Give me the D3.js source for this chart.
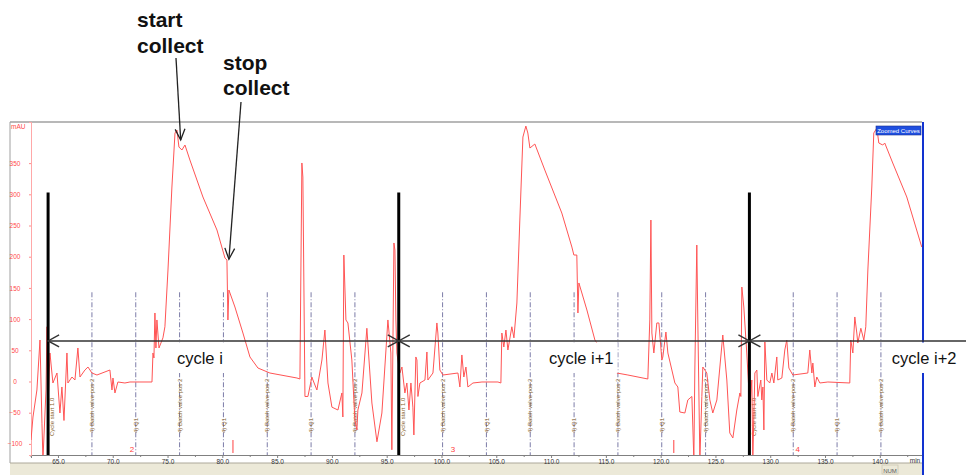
<!DOCTYPE html>
<html>
<head>
<meta charset="utf-8">
<script src="https://cdnjs.cloudflare.com/ajax/libs/d3/7.8.5/d3.min.js"></script>
<style>
body{margin:0;background:#fff;}
svg{display:block;font-family:"Liberation Sans",Arial,sans-serif;}
</style>
</head>
<body>
<div id="chart"></div>
<script>
// UV trace, [time (min), mAU]
var preCycle = [[62.54,-93.8],[62.72,-56.9],[63.08,-13.6],[63.36,66.5],[63.54,-66.9],[63.63,-125],[63.91,-13.6],[64.00,87.7],[64.09,-41.1]];
var cycle1 = [[64.09,-41.1],[64.27,45.7],[64.54,-2.4],[64.91,13.6],[65.18,-50.5],[65.36,-8.8],[65.55,-62.5],[65.82,45.7],[65.91,-2.4],[66.28,7.2],[66.55,2.4],[66.82,53.7],[67.01,7.2],[67.46,18.4],[67.74,23.2],[68.10,13.6],[68.56,10.4],[69.74,18.4],[69.93,-13.6],[70.02,5.6],[70.20,-18.4],[70.47,-0.8],[71.11,-2.4],[71.57,-0.8],[72.48,-0.8],[73.58,-0.8],[73.67,45.7],[73.76,37.7],[73.85,109.8],[73.94,53.7],[74.03,98.6],[74.22,53.7],[74.58,69.9],[74.76,87.7],[75.04,178.7],[75.40,311.7],[75.68,398.2],[75.86,403.0],[76.04,375.8],[76.31,371.0],[76.59,379.0],[77.04,355.0],[78.23,295.7],[79.51,242.8],[80.24,197.9],[80.42,194.7],[80.51,98.6],[80.60,146.6],[81.15,119.4],[81.88,77.7],[82.52,39.3],[83.25,21.6],[84.34,13.6],[86.81,5.6],[87.08,4.0],[87.26,350.2],[87.35,327.7],[87.54,-24.0],[87.81,-24.0],[88.17,7.2],[88.27,2.4],[88.63,-13.6],[89.09,34.5],[89.36,82.5],[89.64,-2.4],[90.00,-41.1],[90.55,-45.7],[90.91,-18.4],[91.00,-56.9],[91.09,202.7],[91.28,98.6],[91.46,93.8],[91.82,34.5],[92.10,-62.5],[92.28,-77.7],[92.37,-45.7],[92.74,-18.4],[93.19,85.3],[93.65,-34.5],[94.11,-96.6],[94.56,-50.5],[95.11,98.6],[95.38,45.7],[95.47,-109.4],[95.66,222.0],[95.75,210.7],[95.84,98.6],[95.93,45.7]];
var cycle2 = [[95.93,45.7],[96.20,13.6],[96.39,23.2],[96.66,-18.4],[96.84,-2.4],[97.03,-45.7],[97.21,-2.4],[97.39,-41.1],[97.48,-85.7],[97.66,39.3],[97.76,34.5],[97.85,-24.0],[98.03,-2.4],[98.49,2.4],[98.67,47.3],[98.76,2.4],[99.22,13.6],[99.58,93.8],[99.67,77.7],[99.85,18.4],[100.13,10.4],[101.50,13.6],[101.68,-8.8],[101.86,42.5],[102.04,7.2],[102.23,23.2],[102.41,-8.8],[102.87,-2.4],[103.69,-0.8],[105.15,-0.8],[105.42,-2.4],[105.51,77.7],[105.69,55.3],[105.88,82.5],[106.06,50.5],[106.42,87.7],[106.61,69.9],[106.88,125.8],[107.15,258.8],[107.43,391.8],[107.70,409.4],[107.88,398.2],[108.07,374.2],[108.52,380.6],[109.43,338.9],[110.98,270.0],[111.90,215.5],[112.08,202.7],[112.35,202.7],[112.45,109.8],[112.54,157.9],[113.27,114.6],[114.00,66.5],[116.00,13.6],[117.01,10.4],[118.83,4.0],[119.01,98.6],[119.11,258.8],[119.20,77.7],[119.38,45.7],[119.65,93.8],[119.84,93.8],[120.11,34.5],[120.20,39.3],[120.48,79.3],[120.66,45.7],[121.30,-2.4],[121.57,-8.8],[121.75,-48.9],[122.21,-50.5],[122.48,-29.6],[122.85,-24.0],[123.03,-125],[123.12,18.4],[123.30,218.7],[123.39,98.6],[123.58,-125],[123.76,-24.0],[123.85,23.2],[124.21,13.6],[124.49,-29.6],[124.76,-50.5],[125.13,-29.6],[125.67,74.5],[126.04,2.4],[126.31,-82.5],[126.59,-90.5],[126.95,-45.7],[127.23,-18.4],[127.32,-24.0],[127.41,151.4],[127.59,119.4],[127.86,45.7]];
var cycle3 = [[127.86,45.7],[128.14,-41.1],[128.32,2.4],[128.41,-125],[128.60,13.6],[128.78,18.4],[128.87,-24.0],[129.14,2.4],[129.23,-29.6],[129.33,-8.8],[129.42,-77.7],[129.51,63.3],[129.69,2.4],[129.96,-2.4],[130.15,13.6],[130.33,-2.4],[130.60,39.3],[130.69,2.4],[131.06,5.6],[131.33,50.5],[131.51,66.5],[131.70,21.6],[132.06,10.4],[133.43,13.6],[133.61,50.5],[133.80,13.6],[133.89,29.6],[134.07,-8.8],[134.25,7.2],[134.53,-2.4],[135.26,-0.8],[137.26,-2.4],[137.35,66.5],[137.54,45.7],[137.72,103.4],[137.90,77.7],[137.99,61.7],[138.27,85.3],[138.54,66.5],[138.72,87.7],[138.91,178.7],[139.27,311.7],[139.45,398.2],[139.73,406.2],[139.91,382.2],[140.27,379.0],[140.45,382.2],[141.18,350.2],[142.46,295.7],[143.83,215.5]];

var yTicks = [-100,-50,0,50,100,150,200,250,300,350];
var xTicks = [65,70,75,80,85,90,95,100,105,110,115,120,125,130,135,140];
var xMinor = [62.5,67.5,72.5,77.5,82.5,87.5,92.5,97.5,102.5,107.5,112.5,117.5,122.5,127.5,132.5,137.5,142.5];

var eventTimes = [64.1,68.1,72.1,76.1,80.1,84.1,88.1,92.1,96.1,100.1,104.1,108.1,112.1,116.1,120.1,124.1,128.1,132.1,136.1,140.1];
var eventTexts = ["Cycle start 1.0","4) Batch valve pos 2","4) Q1","4) Batch valve pos 2","4) Q1","4) Batch valve pos 2","4) Q1","4) Batch valve pos 2",
                  "Cycle start 1.0","4) Batch valve pos 2","4) Q1","4) Batch valve pos 2","4) Q1","4) Batch valve pos 2","4) Q1","4) Batch valve pos 2",
                  "Cycle start 1.0","4) Batch valve pos 2","4) Q1","4) Batch valve pos 2"];
var fracTimes = [71.75,101.04,132.52];
var fracLabels = ["2","3","4"];
var fracTicks = [80.97,121.2];

var cycleStarts = [64.1,96.1,128.1];
var cycleLabels = ["cycle i","cycle i+1","cycle i+2"];
var cycleLabelTimes = [75.86,109.8,141.1];
var collectStart = [76.2,387];
var collectStop = [80.6,196];

var W = 966, H = 475;
var svg = d3.select("#chart").append("svg").attr("width",W).attr("height",H);

var x = d3.scaleLinear().domain([62.54,143.85]).range([31,922]);
var y = d3.scaleLinear().domain([-117.8,415.9]).range([455,122]);

// window frame
svg.append("line").attr("x1",10).attr("x2",922).attr("y1",122).attr("y2",122).attr("stroke","#a0a0a0").attr("stroke-width",1.5);
svg.append("line").attr("x1",10).attr("x2",10).attr("y1",122).attr("y2",463).attr("stroke","#a0a0a0").attr("stroke-width",1);
svg.append("rect").attr("x",10).attr("y",463).attr("width",912).attr("height",12).attr("fill","#ece9d8");
svg.append("line").attr("x1",10).attr("x2",922).attr("y1",463).attr("y2",463).attr("stroke","#aca899");
svg.append("rect").attr("x",882).attr("y",465).attr("width",16).attr("height",9).attr("fill","none").attr("stroke","#c8c4b0").attr("stroke-width",0.7);
svg.append("text").attr("x",890).attr("y",472.5).attr("text-anchor","middle").attr("font-size",6).attr("fill","#555").text("NUM");

// event marker lines
svg.append("g").selectAll("line").data(eventTimes).join("line")
   .attr("x1",function(d){return x(d);}).attr("x2",function(d){return x(d);})
   .attr("y1",y(143)).attr("y2",455)
   .attr("stroke","#7c7ca8").attr("stroke-width",1).attr("stroke-dasharray","5,2,1,2");

svg.append("g").selectAll("text").data(eventTimes).join("text")
   .attr("transform",function(d,i){
       var xx = i%8==0 ? x(d)+4 : x(d);
       return "translate("+xx+","+(i%8==0 ? 436 : 433)+") rotate(-90)";
   })
   .attr("dy","0.35em").attr("font-size",6).attr("fill","#86622a")
   .text(function(d,i){return eventTexts[i];});

// axes
var xAxis = svg.append("g").attr("transform","translate(0,455)")
   .call(d3.axisBottom(x).tickValues(xTicks).tickFormat(d3.format(".1f")).tickSize(3).tickPadding(1));
xAxis.select(".domain").attr("stroke","#808080");
xAxis.selectAll(".tick line").attr("stroke","#808080");
xAxis.selectAll("text").attr("font-size",6.5).attr("fill","#333").attr("font-family","Liberation Sans, Arial");
var xMin = svg.append("g").attr("transform","translate(0,455)")
   .call(d3.axisBottom(x).tickValues(xMinor).tickFormat("").tickSize(2));
xMin.select(".domain").remove();
xMin.selectAll(".tick line").attr("stroke","#808080");
svg.append("text").attr("x",915).attr("y",463).attr("text-anchor","middle").attr("font-size",6.5).attr("fill","#333").text("min");

var yAxis = svg.append("g").attr("transform","translate(31,0)")
   .call(d3.axisLeft(y).tickValues(yTicks).tickSize(2));
yAxis.select(".domain").attr("stroke","#ffa8a8");
yAxis.selectAll(".tick line").attr("stroke","#ff8c8c");
yAxis.selectAll("text").attr("x",-16).attr("text-anchor","middle").attr("font-size",6.5)
   .attr("fill","#ff4a4a").attr("font-family","Liberation Sans, Arial");
svg.append("text").attr("x",11).attr("y",129).attr("font-size",6.5).attr("fill","#ff4a4a").text("mAU");

// trace
svg.append("clipPath").attr("id","plotclip").append("rect")
   .attr("x",31).attr("y",122).attr("width",891).attr("height",333);
var line = d3.line().x(function(d){return x(d[0]);}).y(function(d){return y(d[1]);});
[preCycle,cycle1,cycle2,cycle3].forEach(function(seg){
  svg.append("path").attr("d",line(seg)).attr("fill","none")
     .attr("stroke","#ff5454").attr("stroke-width",1).attr("clip-path","url(#plotclip)");
});

// fraction marks
svg.append("g").selectAll("text").data(fracTimes).join("text")
   .attr("x",function(d){return x(d);}).attr("y",452).attr("text-anchor","middle")
   .attr("font-size",8).attr("fill","#ff4040").text(function(d,i){return fracLabels[i];});
svg.append("g").selectAll("line").data(fracTicks).join("line")
   .attr("x1",function(d){return x(d);}).attr("x2",function(d){return x(d);})
   .attr("y1",440).attr("y2",453).attr("stroke","#ff4040").attr("stroke-width",1);

// "Zoomed Curves" badge
svg.append("rect").attr("x",876).attr("y",126).attr("width",45).attr("height",9)
   .attr("fill","#1f4fe0").attr("stroke","#1a2f90").attr("stroke-width",0.6);
svg.append("text").attr("x",898.5).attr("y",133).attr("text-anchor","middle")
   .attr("font-size",6).attr("fill","#fff").text("Zoomed Curves");

// right blue border
var arrowY = y(65);
svg.append("line").attr("x1",923).attr("x2",923).attr("y1",122).attr("y2",475)
   .attr("stroke","#1233d0").attr("stroke-width",2);

// cycle annotation
svg.append("g").selectAll("line").data(cycleStarts).join("line")
   .attr("x1",function(d){return x(d);}).attr("x2",function(d){return x(d);})
   .attr("y1",y(303)).attr("y2",455).attr("stroke","#000").attr("stroke-width",3);

svg.append("line").attr("x1",x(cycleStarts[0])).attr("x2",W).attr("y1",arrowY).attr("y2",arrowY)
   .attr("stroke","#333").attr("stroke-width",1.4);

function chev(px,py,dir){
  return "M"+(px+dir*11)+","+(py-6)+"L"+px+","+py+"L"+(px+dir*11)+","+(py+6);
}
cycleStarts.forEach(function(t,i){
  var px = x(t);
  svg.append("path").attr("d",chev(px,arrowY,1)).attr("fill","none").attr("stroke","#333").attr("stroke-width",1.4);
  if(i>0){
    svg.append("path").attr("d",chev(px,arrowY,-1)).attr("fill","none").attr("stroke","#333").attr("stroke-width",1.4);
  }
});

cycleLabels.forEach(function(lbl,i){
  var g = svg.append("g");
  var txt = g.append("text").attr("x",x(cycleLabelTimes[i])).attr("y",364)
     .attr("font-size",16.5).attr("fill","#111").text(lbl);
  var bb = txt.node().getBBox();
  g.insert("rect","text").attr("x",bb.x-4).attr("y",arrowY+1.5).attr("width",bb.width+8)
     .attr("height",373-arrowY-1.5).attr("fill","#fff");
});

// collect annotations
function arrow(x0,y0,x1,y1){
  var a = Math.atan2(y1-y0,x1-x0), L = 12, s = 0.42;
  svg.append("line").attr("x1",x0).attr("y1",y0).attr("x2",x1).attr("y2",y1)
     .attr("stroke","#222").attr("stroke-width",1.3);
  svg.append("path").attr("d","M"+(x1-L*Math.cos(a-s))+","+(y1-L*Math.sin(a-s))+"L"+x1+","+y1+
     "L"+(x1-L*Math.cos(a+s))+","+(y1-L*Math.sin(a+s)))
     .attr("fill","none").attr("stroke","#222").attr("stroke-width",1.3);
}
arrow(176,58,x(collectStart[0]),y(collectStart[1]));
arrow(241,102,x(collectStop[0]),y(collectStop[1]));

var note = svg.append("g").attr("font-size",21).attr("font-weight","bold").attr("fill","#111");
note.append("text").attr("x",137).attr("y",27).text("start");
note.append("text").attr("x",137).attr("y",53).text("collect");
note.append("text").attr("x",223).attr("y",70).text("stop");
note.append("text").attr("x",223).attr("y",95).text("collect");
</script>
</body>
</html>
